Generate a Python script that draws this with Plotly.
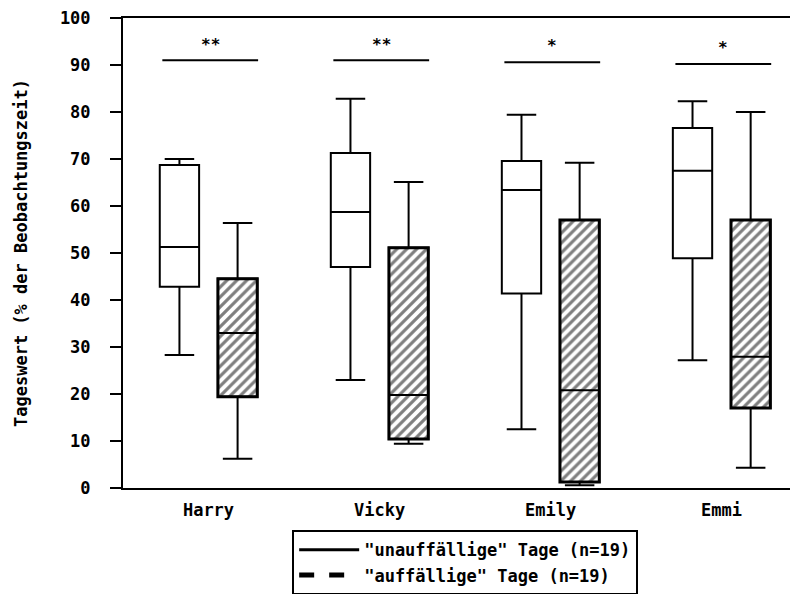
import plotly.graph_objects as go

# ---- data ----
names = ["Harry", "Vicky", "Emily", "Emmi"]

# "unauffällige" Tage (white boxes)
u_lower = [28.3, 23.0, 12.5, 27.2]
u_q1 = [42.8, 47.0, 41.4, 48.9]
u_med = [51.3, 58.7, 63.4, 67.5]
u_q3 = [68.7, 71.3, 69.6, 76.6]
u_upper = [70.0, 82.8, 79.4, 82.3]

# "auffällige" Tage (hatched boxes)
a_lower = [6.2, 9.4, 0.6, 4.3]
a_q1 = [19.4, 10.4, 1.3, 17.0]
a_med = [33.0, 19.8, 20.8, 27.9]
a_q3 = [44.5, 51.1, 57.0, 57.0]
a_upper = [56.4, 65.1, 69.2, 80.0]

sig_labels = ["**", "**", "*", "*"]
sig_heights = [91.0, 91.0, 90.6, 90.2]

y_ticks = [0, 10, 20, 30, 40, 50, 60, 70, 80, 90, 100]

# ---- styling ----
OFF = 0.17
BW = 0.23
MONO = "DejaVu Sans Mono"
idx = list(range(len(names)))
xu = [i - OFF for i in idx]
xa = [i + OFF for i in idx]

fig = go.Figure()

# hatched fill for "auffällige" boxes
fig.add_trace(go.Bar(
    x=xa, base=a_q1, y=[h - l for h, l in zip(a_q3, a_q1)], width=BW,
    marker=dict(color="white", line=dict(color="black", width=3),
                pattern=dict(shape="/", fgcolor="black", bgcolor="white",
                             size=7, solidity=0.45)),
    name='"auffällige" Tage (n=19)', showlegend=False, hoverinfo="skip",
))

# white boxes
fig.add_trace(go.Box(
    x=xu, q1=u_q1, median=u_med, q3=u_q3, lowerfence=u_lower, upperfence=u_upper,
    width=BW, whiskerwidth=0.75, fillcolor="white",
    line=dict(color="black", width=2), boxpoints=False,
    name='"unauffällige" Tage (n=19)', showlegend=False,
))

# outlines / medians / whiskers of hatched boxes
fig.add_trace(go.Box(
    x=xa, q1=a_q1, median=a_med, q3=a_q3, lowerfence=a_lower, upperfence=a_upper,
    width=BW, whiskerwidth=0.75, fillcolor="rgba(0,0,0,0)",
    line=dict(color="black", width=2), boxpoints=False,
    name='"auffällige" Tage (n=19)', showlegend=False,
))

# legend entries
fig.add_trace(go.Scatter(x=[None], y=[None], mode="lines",
                         line=dict(color="black", width=3),
                         name='"unauffällige" Tage (n=19)'))
fig.add_trace(go.Scatter(x=[None], y=[None], mode="lines",
                         line=dict(color="black", width=5, dash="dash"),
                         name='"auffällige" Tage (n=19)'))

# significance lines and stars
for i, (lab, h) in enumerate(zip(sig_labels, sig_heights)):
    fig.add_shape(type="line", xref="x", yref="y", x0=i - 0.27, x1=i + 0.29,
                  y0=h, y1=h, line=dict(color="black", width=2))
    fig.add_annotation(x=i + 0.01, y=h + 1.0, text=lab, showarrow=False,
                       yanchor="bottom",
                       font=dict(family=MONO, size=16, color="black", weight="bold"))

fig.update_layout(
    width=794, height=594,
    margin=dict(l=123, r=4, t=18, b=106, autoexpand=False),
    paper_bgcolor="white", plot_bgcolor="white",
    barmode="overlay",
    font=dict(family=MONO, size=14, color="black"),
    legend=dict(x=0.513, xanchor="center", y=-0.09, yanchor="top",
                bordercolor="black", borderwidth=2, bgcolor="white",
                font=dict(family=MONO, size=17, color="black", weight="bold"),
                traceorder="normal", itemwidth=60, tracegroupgap=0),
    xaxis=dict(range=[-0.5, 3.4], tickvals=idx, ticktext=names,
               showline=True, linecolor="black", linewidth=2, mirror=True,
               ticks="", showgrid=False, zeroline=False, ticklabelstandoff=6,
               tickfont=dict(family=MONO, size=17, color="black", weight="bold")),
    yaxis=dict(range=[0, 100], tickvals=y_ticks,
               showline=True, linecolor="black", linewidth=2,
               ticks="outside", ticklen=11, tickwidth=2, tickcolor="black",
               showgrid=False, zeroline=False, ticklabelstandoff=16,
               tickfont=dict(family=MONO, size=17, color="black", weight="bold"),
               title=dict(text="Tageswert (% der Beobachtungszeit)",
                          font=dict(family=MONO, size=17, color="black", weight="bold"),
                          standoff=28)),
)

fig.write_html("out.html")
